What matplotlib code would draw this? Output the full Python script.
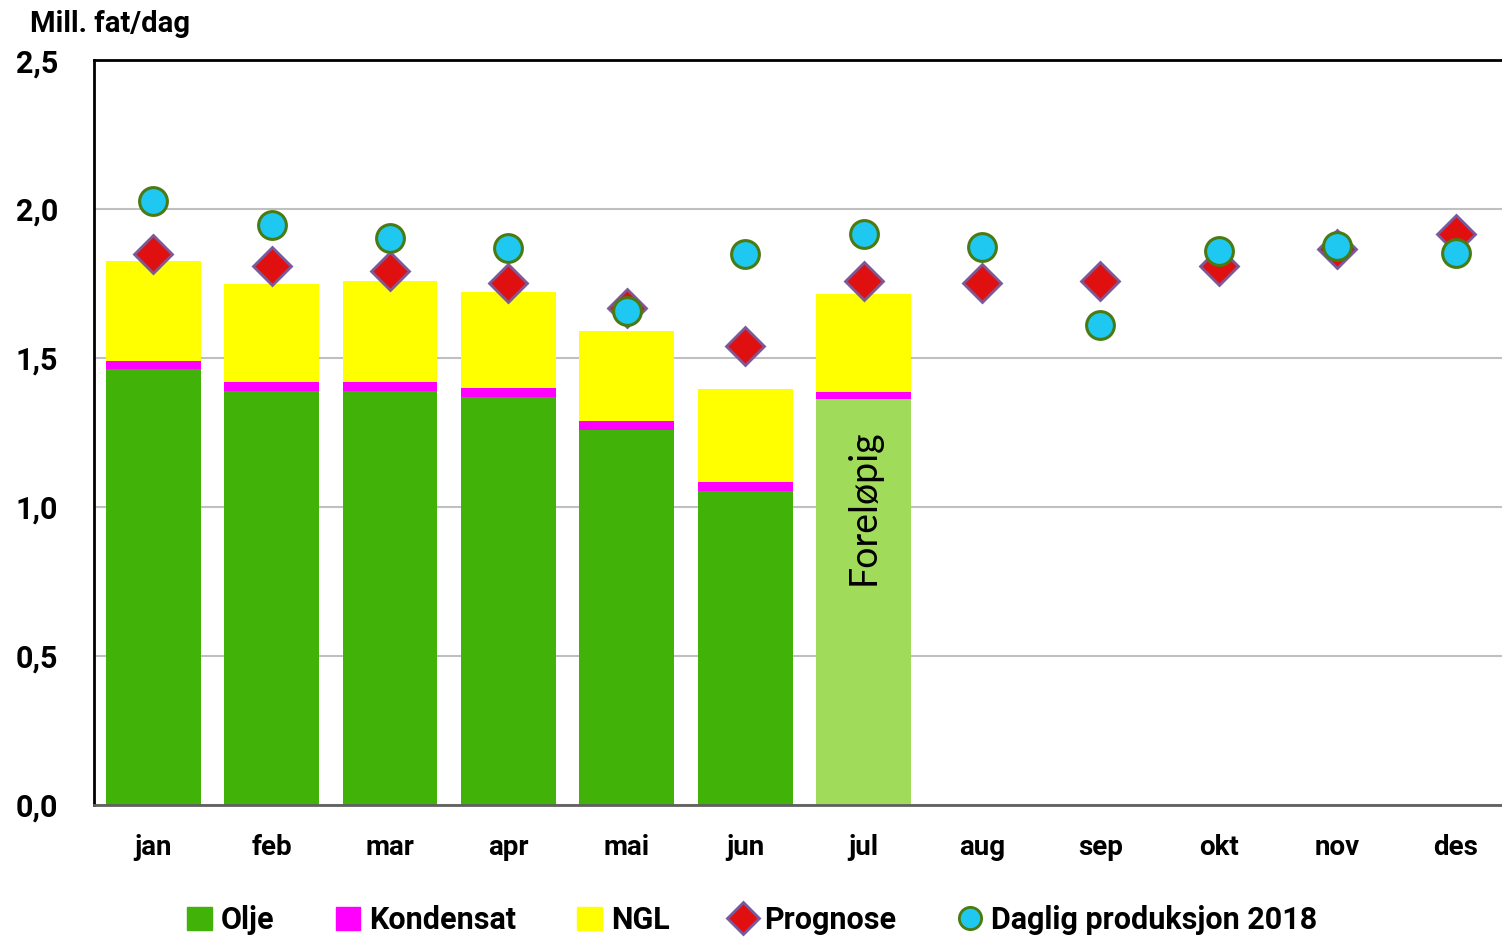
import numpy as np
import matplotlib.pyplot as plt

plt.rcParams['font.family'] = ['Roboto', 'DejaVu Sans']

months = ['jan', 'feb', 'mar', 'apr', 'mai', 'jun', 'jul', 'aug', 'sep', 'okt', 'nov', 'des']
olje = [1.463, 1.389, 1.389, 1.369, 1.258, 1.054, 1.362]
kondensat = [0.027, 0.030, 0.030, 0.030, 0.031, 0.030, 0.024]
ngl = [0.336, 0.329, 0.339, 0.322, 0.302, 0.312, 0.329]
prognose = [1.849, 1.809, 1.792, 1.752, 1.668, 1.540, 1.758, 1.752, 1.758, 1.809, 1.866, 1.916]
daglig = [2.027, 1.946, 1.903, 1.869, 1.658, 1.849, 1.916, 1.872, 1.611, 1.859, 1.876, 1.852]

green = '#40b208'
green_light = '#a0dc5a'
magenta = '#ff00ff'
yellow = '#ffff00'

fig = plt.figure(figsize=(15.02, 9.40), dpi=100)
ax = fig.add_axes([0.0626, 0.1436, 0.946, 0.7925])

x = np.arange(len(months))
nb = len(olje)
xb = x[:nb]
colors = [green] * (nb - 1) + [green_light]
ax.bar(xb, olje, width=0.8, color=colors, zorder=2)
ax.bar(xb, kondensat, width=0.8, bottom=olje, color=magenta, zorder=2)
bottom2 = np.array(olje) + np.array(kondensat)
ax.bar(xb, ngl, width=0.8, bottom=bottom2, color=yellow, zorder=2)

ax.text(6, 1.0, 'Foreløpig', rotation=90, ha='center', va='center', fontsize=27,
        family=['Lato', 'DejaVu Sans'])

ax.plot(x, prognose, linestyle='none', marker='D', markersize=19,
        markerfacecolor='#e01010', markeredgecolor='#7a5a9a', markeredgewidth=2, zorder=3)
ax.plot(x, daglig, linestyle='none', marker='o', markersize=20,
        markerfacecolor='#1ec8f0', markeredgecolor='#4a7a12', markeredgewidth=2.2, zorder=4)

ax.set_xlim(-0.5, 11.5)
ax.set_ylim(0, 2.5)
ax.set_xticks(x)
ax.set_xticklabels(months, fontsize=20, fontweight='bold')
ax.set_yticks([0, 0.5, 1.0, 1.5, 2.0, 2.5])
ax.set_yticklabels(['0,0', '0,5', '1,0', '1,5', '2,0', '2,5'], fontsize=22, fontweight='bold')
ax.tick_params(axis='both', length=0)
ax.tick_params(axis='x', pad=21)
ax.tick_params(axis='y', pad=26)
ax.grid(axis='y', color='#c0c0c0', linewidth=1.5, zorder=0)
ax.set_axisbelow(True)

ax.spines['right'].set_visible(False)
ax.spines['left'].set_linewidth(2)
ax.spines['top'].set_linewidth(2)
ax.spines['bottom'].set_color('#606060')
ax.spines['bottom'].set_linewidth(2)

fig.text(0.02, 0.975, 'Mill. fat/dag', fontsize=21, fontweight='bold', va='center')

h1 = plt.Rectangle((0, 0), 1, 1, color=green)
h2 = plt.Rectangle((0, 0), 1, 1, color=magenta)
h3 = plt.Rectangle((0, 0), 1, 1, color=yellow)
h4 = plt.Line2D([], [], linestyle='none', marker='D', markersize=16,
                markerfacecolor='#e01010', markeredgecolor='#7a5a9a', markeredgewidth=2)
h5 = plt.Line2D([], [], linestyle='none', marker='o', markersize=16,
                markerfacecolor='#1ec8f0', markeredgecolor='#4a7a12', markeredgewidth=2)
leg = fig.legend([h1, h2, h3, h4, h5], ['Olje', 'Kondensat', 'NGL', 'Prognose', 'Daglig produksjon 2018'],
                 loc='center', bbox_to_anchor=(0.501, 0.021), ncol=5, frameon=False,
                 handlelength=0.8, handleheight=0.8, handletextpad=0.3, columnspacing=2.0,
                 prop={'size': 22, 'weight': 'bold'})

fig.savefig('out.png', dpi=100)
